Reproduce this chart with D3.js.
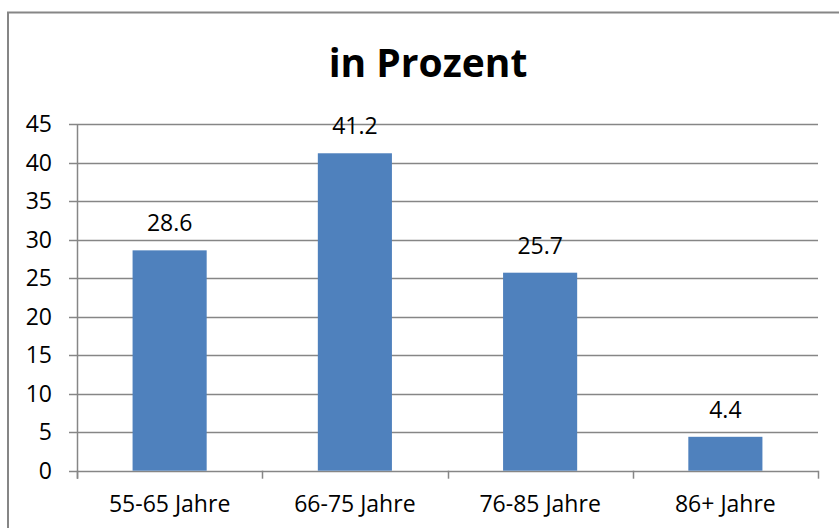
<!DOCTYPE html>
<html>
<head>
<meta charset="utf-8">
<script src="https://cdn.jsdelivr.net/npm/d3@7"></script>
<style>
  html, body { margin: 0; padding: 0; background: #fff; }
  svg { display: block; }
  text { font-family: "Open Sans", "DejaVu Sans", sans-serif; fill: #000; }
</style>
</head>
<body>
<svg id="chart" width="839" height="528"></svg>
<script>
const categories = ["55-65 Jahre", "66-75 Jahre", "76-85 Jahre", "86+ Jahre"];
const values = [28.6, 41.2, 25.7, 4.4];
const yTicks = [0, 5, 10, 15, 20, 25, 30, 35, 40, 45];
const title = "in Prozent";

const W = 839, H = 528;
const svg = d3.select("#chart");

// outer chart frame
svg.append("rect")
  .attr("x", 8).attr("y", 12.5)
  .attr("width", 840).attr("height", 540)
  .attr("fill", "none").attr("stroke", "#868686").attr("stroke-width", 2);

const plot = { left: 77, right: 818, top: 124, bottom: 470.7 };

const x = d3.scaleBand().domain(categories).range([plot.left, plot.right]).padding(0);
const y = d3.scaleLinear().domain([0, 45]).range([plot.bottom, plot.top]);

// gridlines
svg.append("g").selectAll("line").data(yTicks).join("line")
  .attr("x1", plot.left - 8).attr("x2", plot.right)
  .attr("y1", d => Math.round(y(d)) + 0.5).attr("y2", d => Math.round(y(d)) + 0.5)
  .attr("stroke", "#868686").attr("stroke-width", 1.5);

// y axis line
svg.append("line")
  .attr("x1", plot.left + 0.5).attr("x2", plot.left + 0.5)
  .attr("y1", y(45)).attr("y2", y(0) + 8)
  .attr("stroke", "#868686").attr("stroke-width", 1.5);

// x axis category ticks
const boundaries = categories.map(c => x(c)).concat([x(categories[categories.length - 1]) + x.bandwidth()]);
svg.append("g").selectAll("line").data(boundaries).join("line")
  .attr("x1", d => Math.round(d) + 0.5).attr("x2", d => Math.round(d) + 0.5)
  .attr("y1", y(0)).attr("y2", y(0) + 8)
  .attr("stroke", "#868686").attr("stroke-width", 1.5);

// y tick labels
svg.append("g").selectAll("text").data(yTicks).join("text")
  .attr("x", 52).attr("y", d => y(d))
  .attr("dy", "0.36em")
  .attr("text-anchor", "end")
  .attr("font-size", 23)
  .text(d => d);

// bars
const barW = x.bandwidth() * 0.4;
svg.append("g").selectAll("rect").data(values).join("rect")
  .attr("x", (d, i) => x(categories[i]) + (x.bandwidth() - barW) / 2)
  .attr("width", barW)
  .attr("y", d => y(d))
  .attr("height", d => y(0) - y(d))
  .attr("fill", "#4f81bd");

// value labels
svg.append("g").selectAll("text").data(values).join("text")
  .attr("x", (d, i) => x(categories[i]) + x.bandwidth() / 2)
  .attr("y", d => y(d) - 19)
  .attr("text-anchor", "middle")
  .attr("font-size", 23)
  .text(d => d.toFixed(1));

// category labels
svg.append("g").selectAll("text").data(categories).join("text")
  .attr("x", d => x(d) + x.bandwidth() / 2)
  .attr("y", 512)
  .attr("text-anchor", "middle")
  .attr("font-size", 23)
  .text(d => d);

// title
svg.append("text")
  .attr("x", 428).attr("y", 77)
  .attr("text-anchor", "middle")
  .attr("font-size", 39)
  .attr("font-weight", "bold")
  .text(title);
</script>
</body>
</html>
